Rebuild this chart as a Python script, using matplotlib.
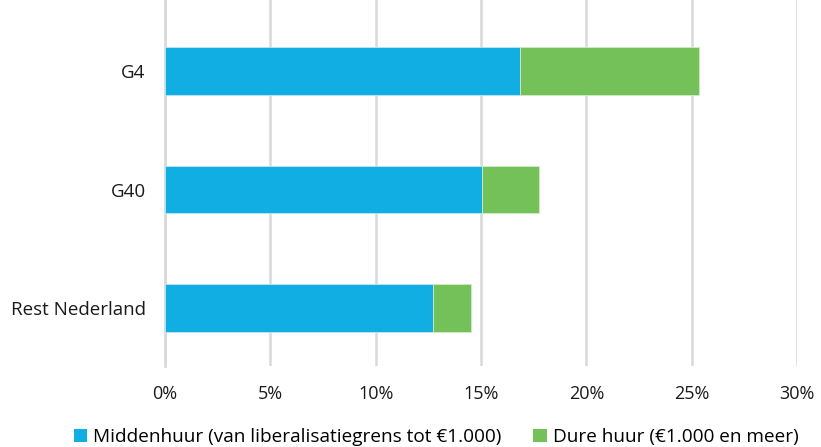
import matplotlib
matplotlib.use("Agg")
import matplotlib.pyplot as plt
from matplotlib.patches import Patch

plt.rcParams['font.family'] = ['Open Sans', 'DejaVu Sans']

categories = ["G4", "G40", "Rest Nederland"]
midden = [16.85, 15.05, 12.72]
duur = [8.5, 2.7, 1.8]
xticks = [0, 5, 10, 15, 20, 25, 30]
xticklabels = ["0%", "5%", "10%", "15%", "20%", "25%", "30%"]
series_names = ["Middenhuur (van liberalisatiegrens tot €1.000)", "Dure huur (€1.000 en meer)"]
colors = ["#10AEE2", "#74C15A"]

fig = plt.figure(figsize=(8.21, 4.47), dpi=100)
ax = fig.add_axes([165/821, 81/447, 632/821, 366/447])

y = list(range(len(categories)))
ax.barh(y, midden, height=0.4, color=colors[0], edgecolor="#BFE6F5", linewidth=0.6, zorder=3)
ax.barh(y, duur, left=midden, height=0.4, color=colors[1], edgecolor="#D2EBC8", linewidth=0.6, zorder=3)

ax.set_xlim(0, 30)
ax.set_ylim(2.49, -0.6)
ax.set_yticks(y)
ax.set_yticklabels(categories, fontsize=13.5, color="#1a1a1a")
ax.set_xticks(xticks)
ax.set_xticklabels(xticklabels, fontsize=13, color="#1a1a1a")
ax.tick_params(axis="both", length=0)
ax.tick_params(axis="y", pad=14)
ax.tick_params(axis="x", pad=13.5)
ax.grid(axis="x", color="#D9D9D9", linewidth=1.8, zorder=0)
for s in ["top", "right", "bottom"]:
    ax.spines[s].set_visible(False)
ax.spines["left"].set_color("#D9D9D9")
ax.spines["left"].set_linewidth(2)
ax.spines["left"].set_zorder(1)

handles = [Patch(facecolor=colors[0]), Patch(facecolor=colors[1])]
fig.legend(handles, series_names, loc="center", bbox_to_anchor=(436/821, 10/447),
           ncol=2, frameon=False, fontsize=13.7, handlelength=0.7, handleheight=0.7,
           handletextpad=0.3, columnspacing=1.7, borderaxespad=0)

fig.savefig("out.png", dpi=100)
